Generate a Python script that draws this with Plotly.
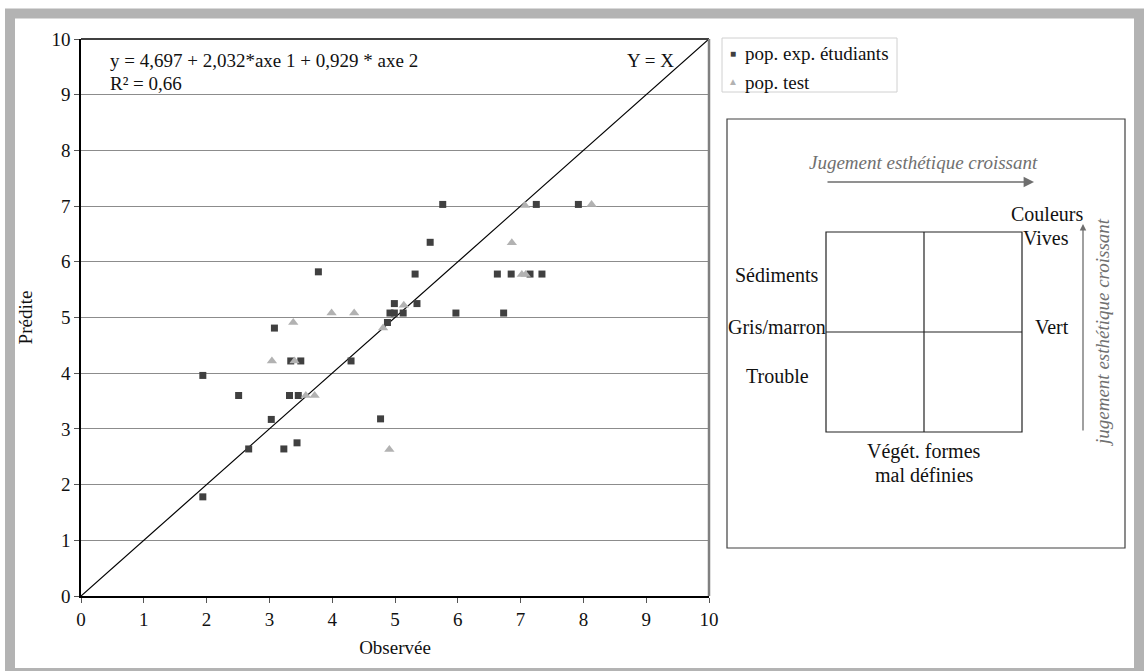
import plotly.graph_objects as go

# ---- data ----
exp_x = [1.94, 1.94, 2.51, 2.67, 3.03, 3.08, 3.23, 3.32, 3.34, 3.44, 3.46, 3.50, 3.78, 4.30,
         4.77, 4.88, 4.92, 4.99, 4.99, 5.13, 5.32, 5.35, 5.56, 5.76, 5.97, 6.63, 6.73, 6.85,
         7.15, 7.25, 7.34, 7.92]
exp_y = [1.78, 3.96, 3.60, 2.64, 3.17, 4.81, 2.64, 3.60, 4.22, 2.75, 3.60, 4.22, 5.82, 4.22,
         3.18, 4.91, 5.08, 5.08, 5.25, 5.08, 5.78, 5.25, 6.35, 7.03, 5.08, 5.78, 5.08, 5.78,
         5.78, 7.03, 5.78, 7.03]
test_x = [3.04, 3.38, 3.40, 3.58, 3.72, 3.99, 4.35, 4.81, 4.91, 5.14, 6.86, 7.02, 7.08, 7.07, 8.13]
test_y = [4.22, 4.91, 4.22, 3.60, 3.60, 5.08, 5.08, 4.81, 2.63, 5.22, 6.34, 5.77, 5.77, 7.01, 7.03]
diag_x = [0, 10]
diag_y = [0, 10]
ticks = list(range(0, 11))
series_names = ["pop. exp. étudiants", "pop. test"]

FONT = "Liberation Serif"
FS = 19
W, H = 1144, 671
L, R, T, B = 81, 709, 39, 596
EXP_COLOR = "#404040"
TEST_COLOR = "#b2b2b2"


def px(x):
    return (x - L) / (R - L)


def py(y):
    return (B - y) / (B - T)


fig = go.Figure()
fig.add_trace(go.Scatter(x=diag_x, y=diag_y, mode="lines", line=dict(color="black", width=1.2),
                         showlegend=False, hoverinfo="skip"))
fig.add_trace(go.Scatter(x=exp_x, y=exp_y, mode="markers", name=series_names[0], showlegend=False,
                         marker=dict(symbol="square", size=7, color=EXP_COLOR)))
fig.add_trace(go.Scatter(x=test_x, y=test_y, mode="markers", name=series_names[1], showlegend=False,
                         marker=dict(symbol="triangle-up", size=9, color=TEST_COLOR)))

shapes = []
# outer grey frame
shapes.append(dict(type="rect", xref="paper", yref="paper", x0=px(10), y0=py(13.5), x1=px(1139), y1=py(673),
                   line=dict(color="#b3b3b3", width=10), layer="below"))
# plot frame top & right
shapes.append(dict(type="line", xref="paper", yref="paper", x0=0, y0=1, x1=1, y1=1,
                   line=dict(color="black", width=1.5)))
shapes.append(dict(type="line", xref="paper", yref="paper", x0=1, y0=0, x1=1, y1=1,
                   line=dict(color="#808080", width=2.5)))
# legend box
shapes.append(dict(type="rect", xref="paper", yref="paper", x0=px(722), y0=py(38), x1=px(897), y1=py(92),
                   line=dict(color="#d0d0d0", width=1)))
# diagram box
shapes.append(dict(type="rect", xref="paper", yref="paper", x0=px(727), y0=py(119), x1=px(1125), y1=py(548),
                   line=dict(color="#404040", width=1.2)))
# quadrant
shapes.append(dict(type="rect", xref="paper", yref="paper", x0=px(826), y0=py(232), x1=px(1022), y1=py(432),
                   line=dict(color="#222222", width=1.2)))
shapes.append(dict(type="line", xref="paper", yref="paper", x0=px(924), y0=py(232), x1=px(924), y1=py(432),
                   line=dict(color="#222222", width=1.2)))
shapes.append(dict(type="line", xref="paper", yref="paper", x0=px(826), y0=py(332), x1=px(1022), y1=py(332),
                   line=dict(color="#222222", width=1.2)))

ann = []


def txt(x, y, s, size=FS, color="#111111", italic=False, xanchor="center", angle=0):
    ann.append(dict(xref="paper", yref="paper", x=px(x), y=py(y), text=s, showarrow=False,
                    xanchor=xanchor, yanchor="middle", textangle=angle,
                    font=dict(family=FONT, size=size, color=color,
                              style="italic" if italic else "normal")))


# legend
txt(733, 54, "■", size=10, color=EXP_COLOR)
txt(743, 54, series_names[0], xanchor="left")
txt(733, 81, "▲", size=10, color=TEST_COLOR)
txt(743, 82, series_names[1], xanchor="left")

txt(108, 60, "y = 4,697 + 2,032*axe 1 + 0,929 * axe 2", xanchor="left")
txt(108, 83, "R² = 0,66", xanchor="left")
txt(650, 60, "Y = X")
txt(923, 163, "Jugement esthétique croissant", color="#707070", italic=True)
txt(1047, 214, "Couleurs", size=20)
txt(1046, 238, "Vives", size=20)
txt(777, 275, "Sédiments", size=20)
txt(777, 327, "Gris/marron", size=20)
txt(777, 376, "Trouble", size=20)
txt(1052, 327, "Vert", size=20)
txt(924, 451, "Végét. formes", size=20)
txt(924, 475, "mal définies", size=20)
txt(1102, 333, "jugement esthétique croissant", color="#707070", italic=True, angle=-90)

# arrows
ann.append(dict(xref="paper", yref="paper", x=px(1034), y=py(182), ax=826 - 1034, ay=0,
                showarrow=True, arrowhead=2, arrowsize=1.3, arrowwidth=1.6, arrowcolor="#6e6e6e", text=""))
ann.append(dict(xref="paper", yref="paper", x=px(1083), y=py(224), ax=0, ay=432 - 224,
                showarrow=True, arrowhead=2, arrowsize=1.0, arrowwidth=1.3, arrowcolor="#6e6e6e", text=""))

fig.update_layout(
    width=W, height=H, autosize=False,
    margin=dict(l=L, r=W - R, t=T, b=H - B),
    paper_bgcolor="white", plot_bgcolor="white",
    font=dict(family=FONT, size=FS, color="#111111"),
    shapes=shapes, annotations=ann,
    showlegend=False,
)
fig.update_xaxes(range=[0, 10], tickvals=ticks, showgrid=False, zeroline=False,
                 showline=True, linecolor="black", linewidth=1.5,
                 ticks="outside", ticklen=5, tickcolor="#555555",
                 tickfont=dict(family=FONT, size=FS),
                 title=dict(text="Observée", font=dict(family=FONT, size=FS), standoff=12))
fig.update_yaxes(range=[0, 10], tickvals=ticks, showgrid=True, gridcolor="#8c8c8c", gridwidth=1,
                 zeroline=False, showline=True, linecolor="black", linewidth=1.5,
                 ticks="outside", ticklen=5, tickcolor="#555555",
                 tickfont=dict(family=FONT, size=FS),
                 title=dict(text="Prédite", font=dict(family=FONT, size=FS), standoff=14))

fig.write_html("out.html", config={"displayModeBar": False},
               post_script="document.body.style.margin='0';")
